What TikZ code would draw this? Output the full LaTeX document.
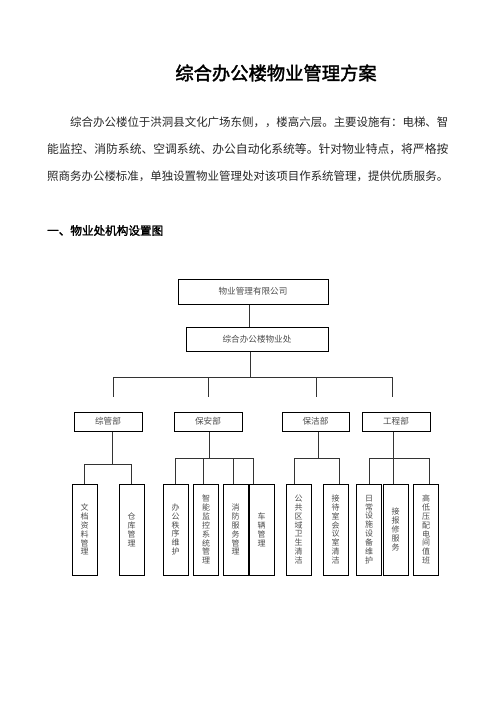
\documentclass[tikz,border=0pt]{standalone}
\usepackage{fontspec}
\setmainfont{Noto Sans CJK SC}[AutoFakeBold=2]
\begin{document}
\begin{tikzpicture}[
            x=1pt, y=-1pt,
            titleText/.style={inner sep=0pt, font=\fontsize{18.3}{20}\selectfont\bfseries},
            bodyText/.style={anchor=west, inner sep=0pt, text=black!85,
            font=\fontsize{11.46}{13}\selectfont},
            headText/.style={anchor=west, inner sep=0pt, font=\fontsize{11.6}{13}\selectfont\bfseries},
            orgBox/.style={rectangle, draw=black, line width=1pt, inner sep=0pt,
            minimum height=25pt, text=black!70, font=\fontsize{8.6}{10}\selectfont},
            deptBox/.style={orgBox, minimum width=68pt, minimum height=19pt},
            leafBox/.style={orgBox, minimum width=25pt, minimum height=91pt, align=center,
            font=\fontsize{8}{8.9}\selectfont},
            link/.style={line width=0.8pt, draw=black!80},
        ]
        \useasboundingbox (0,0) rectangle (496,702);
        % heading and text
        \node[titleText] (title) at (276,73) {综合办公楼物业管理方案};
        \node[bodyText] (introA) at (70,122.5) {综合办公楼位于洪洞县文化广场东侧，，楼高六层。主要设施有：电梯、智};
        \node[bodyText, font=\fontsize{11.8}{13}\selectfont] (introB) at (47,149.5) {能监控、消防系统、空调系统、办公自动化系统等。针对物业特点，将严格按};
        \node[bodyText] (introC) at (47,176.5) {照商务办公楼标准，单独设置物业管理处对该项目作系统管理，提供优质服务。};
        \node[headText] (orgHead) at (47,230.5) {一、物业处机构设置图};
        % top levels
        \node[orgBox, minimum width=150pt] (company) at (253,291.5) {物业管理有限公司};
        \node[orgBox, minimum width=142pt, minimum height=24pt] (office) at (257,339) {综合办公楼物业处};
        % departments
        \node[deptBox] (zongGuan)  at (108,421.5) {综管部};
        \node[deptBox] (baoAn)     at (208,421.5) {保安部};
        \node[deptBox, minimum width=67pt] (baoJie) at (315.5,421.5) {保洁部};
        \node[deptBox] (gongCheng) at (396,421.5) {工程部};
        % sections
        \node[leafBox] (wenDang)  at (84.5,529.5)  {文\\档\\资\\料\\管\\理};
        \node[leafBox] (cangKu)   at (131.5,529.5) {仓\\库\\管\\理};
        \node[leafBox] (banGong)  at (175.5,529.5) {办\\公\\秩\\序\\维\\护};
        \node[leafBox] (zhiNeng)  at (206,529.5)   {智\\能\\监\\控\\系\\统\\管\\理};
        \node[leafBox] (xiaoFang) at (235.5,529.5) {消\\防\\服\\务\\管\\理};
        \node[leafBox] (cheLiang) at (261.5,529.5) {车\\辆\\管\\理};
        \node[leafBox] (gongGong) at (298.5,529.5) {公\\共\\区\\域\\卫\\生\\清\\洁};
        \node[leafBox] (jieDai)   at (335.5,529.5) {接\\待\\室\\会\\议\\室\\清\\洁};
        \node[leafBox] (riChang)  at (369,529.5)   {日\\常\\设\\施\\设\\备\\维\\护};
        \node[leafBox] (jieBao)   at (395.5,529.5) {接\\报\\修\\服\\务};
        \node[leafBox] (gaoDi)    at (426,529.5)   {高\\低\\压\\配\\电\\间\\值\\班};
        % main connectors
        \draw[link] ([xshift=-4pt]company.south) -- ([xshift=-8pt]office.north);
        \draw[link] ([xshift=-7pt]office.south) -- ++(0,26) coordinate (mainBus);
        \coordinate (zgDrop) at ([xshift=5pt,yshift=15pt]zongGuan.north);
        \coordinate (baDrop) at ([yshift=15pt]baoAn.north);
        \coordinate (bjDrop) at ([xshift=0.5pt,yshift=15pt]baoJie.north);
        \coordinate (gcDrop) at ([xshift=-4pt,yshift=15pt]gongCheng.north);
        \draw[link] (zgDrop) |- (gcDrop |- mainBus) -- (gcDrop);
        \draw[link] (baDrop) -- (baDrop |- mainBus);
        \draw[link] (bjDrop) -- (bjDrop |- mainBus);
        % zongGuan
        \draw[link] ([xshift=4pt]zongGuan.south) -- ++(0,33) coordinate (zgBus);
        \draw[link] (wenDang.north) |- (cangKu.north |- zgBus) -- (cangKu.north);
        % baoAn
        \draw[link] ([xshift=1pt]baoAn.south) -- ++(0,27) coordinate (baBus);
        \coordinate (znTop) at ([xshift=-3pt]zhiNeng.north);
        \coordinate (xfTop) at ([xshift=-2.5pt]xiaoFang.north);
        \coordinate (clTop) at ([xshift=-8.5pt]cheLiang.north);
        \draw[link] (banGong.north) |- (clTop |- baBus) -- (clTop);
        \draw[link] (znTop) -- (znTop |- baBus);
        \draw[link] (xfTop) -- (xfTop |- baBus);
        % baoJie
        \draw[link] ([xshift=2.5pt]baoJie.south) -- ++(0,27) coordinate (bjBus);
        \coordinate (ggTop) at ([xshift=-4.5pt]gongGong.north);
        \coordinate (jdTop) at ([xshift=3.5pt]jieDai.north);
        \draw[link] (ggTop) |- (jdTop |- bjBus) -- (jdTop);
        % gongCheng
        \draw[link] ([xshift=-3pt]gongCheng.south) -- ++(0,27) coordinate (gcBus);
        \coordinate (jbTop) at ([xshift=-2.5pt]jieBao.north);
        \coordinate (gdTop) at ([xshift=3pt]gaoDi.north);
        \draw[link] (riChang.north) |- (gdTop |- gcBus) -- (gdTop);
        \draw[link] (jbTop) -- (jbTop |- gcBus);
    \end{tikzpicture}
\end{document}
